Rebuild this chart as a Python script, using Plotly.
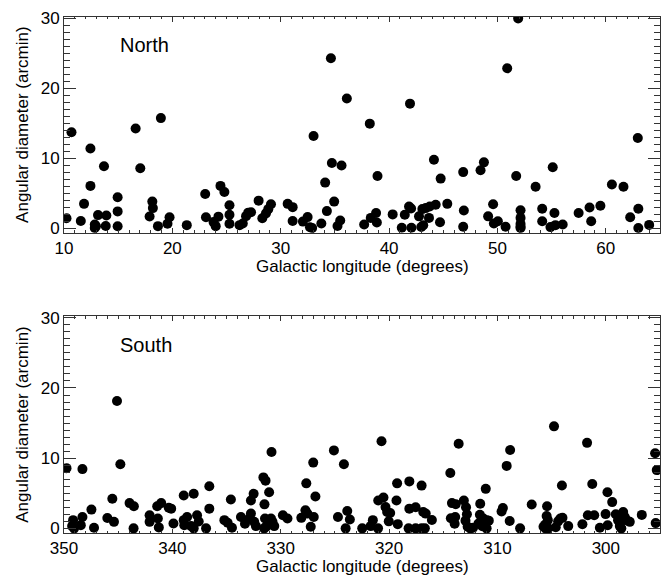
import plotly.graph_objects as go

# Northern sample: galactic longitude (deg) and angular diameter (arcmin)
north_lon = [10.23, 10.69, 11.55, 11.85, 12.44, 12.44, 12.84, 12.84, 12.95, 13.14,
             13.69, 13.91, 13.85, 14.95, 14.95, 14.95, 16.61, 17.04, 17.9, 18.15,
             18.2, 18.67, 18.94, 19.55, 19.74, 21.33, 23.03, 23.1, 23.8, 24.0,
             24.25, 24.44, 24.8, 25.27, 25.27, 25.27, 26.2, 26.5, 26.8, 27.0,
             27.26, 27.96, 28.3, 28.64, 28.85, 29.1, 30.64, 31.1, 31.1, 32.05,
             32.48, 32.7, 32.9, 33.03, 33.75, 34.1, 34.26, 34.63, 34.72, 34.93,
             35.24, 35.49, 35.61, 36.1, 37.7, 38.22, 38.31, 38.8, 38.87, 38.93,
             40.33, 41.17, 41.45, 41.84, 42.03, 41.93, 42.06, 42.76, 42.97, 43.15,
             43.07, 43.38, 43.75, 44.3, 43.68, 44.14, 44.7, 44.76, 45.37, 46.84,
             46.9, 46.84, 48.44, 48.75, 49.14, 49.6, 49.67, 50.04, 50.75, 50.9,
             51.73, 51.91, 52.13, 52.13, 52.13, 52.13, 52.13, 53.52, 54.13, 54.13,
             55.1, 55.26, 54.89, 55.35, 56.02, 57.49, 58.5, 58.65, 59.5, 60.56,
             61.63, 62.25, 62.95, 63.0, 63.0, 64.0]
north_diam = [1.4, 13.7, 1.0, 3.46, 11.37, 6.03, 0.5, 0.0, 0.25, 1.85,
              8.85, 1.8, 0.3, 4.4, 2.38, 0.25, 14.24, 8.55, 1.65, 3.78,
              2.85, 0.27, 15.73, 0.6, 1.53, 0.41, 4.88, 1.53, 0.85, 0.27,
              1.63, 6.03, 5.15, 3.25, 1.9, 0.62, 0.41, 0.65, 1.7, 2.2,
              2.25, 3.92, 1.4, 2.1, 2.7, 3.4, 3.46, 2.99, 1.0, 0.92,
              1.56, 0.1, 0.0, 13.16, 0.65, 6.5, 2.42, 24.3, 9.3, 3.78,
              0.3, 1.07, 8.94, 18.54, 0.5, 14.94, 1.45, 2.15, 0.8, 7.44,
              1.95, 0.04, 1.9, 3.08, 2.8, 17.8, 0.04, 1.67, 0.15, 0.4,
              2.71, 2.85, 3.08, 3.32, 1.45, 9.78, 0.83, 7.07, 3.46, 8.0,
              2.5, 0.18, 8.28, 9.4, 1.67, 3.41, 0.65, 0.97, 0.18, 22.86,
              7.44, 30.0, 2.55, 1.45, 0.6, 0.2, 0.0, 5.9, 2.75, 0.97,
              8.7, 2.15, 0.13, 0.41, 0.5, 2.15, 2.94, 0.97, 3.18, 6.22,
              5.9, 1.53, 12.88, 2.75, 0.0, 0.45]

# Southern sample
south_lon = [349.77, 348.3, 349.16, 349.25, 349.07, 348.45, 348.3, 347.47, 347.23, 346.0,
             345.39, 345.54, 345.11, 344.8, 343.95, 343.55, 343.58, 342.1, 342.1, 341.34,
             341.25, 341.4, 341.03, 340.33, 340.11, 339.9, 338.95, 338.95, 338.9, 338.64,
             338.27, 338.03, 338.03, 337.72, 337.57, 336.89, 336.59, 336.59, 335.2, 334.9,
             334.5, 334.6, 333.67, 333.3, 332.75, 332.5, 332.75, 332.9, 332.45, 332.29,
             331.6, 331.4, 331.07, 331.5, 330.85, 331.45, 331.53, 331.35, 330.9, 330.76,
             330.6, 329.8, 329.38, 328.1, 327.72, 327.54, 327.64, 327.23, 327.0, 326.95,
             326.8, 325.09, 324.72, 324.17, 324.01, 323.86, 323.62, 322.48, 321.7, 321.5,
             321.0, 320.52, 320.7, 321.02, 320.33, 320.18, 319.9, 320.03, 319.26, 319.32,
             319.2, 318.13, 318.13, 317.55, 318.2, 317.55, 317.0, 316.7, 317.0, 316.85,
             316.62, 316.05, 314.35, 314.2, 313.85, 313.58, 314.3, 313.9, 313.95, 313.1,
             312.9, 312.82, 312.95, 312.75, 312.5, 312.25, 311.59, 311.62, 311.75, 311.4,
             311.0, 310.98, 310.8, 311.3, 311.08, 309.62, 309.5, 309.15, 308.83, 308.87,
             307.91, 306.84, 305.42, 305.46, 305.35, 305.61, 305.75, 305.31, 305.55, 304.78,
             304.62, 304.4, 304.2, 304.0, 304.05, 303.47, 302.16, 301.73, 301.66, 301.25,
             301.07, 300.55, 300.02, 299.85, 299.83, 299.41, 299.08, 298.87, 298.71, 298.57,
             298.4, 298.25, 298.1, 297.79, 298.71, 296.68, 295.45, 295.3, 295.4]
south_diam = [8.58, 8.44, 1.17, 0.32, 0.0, 0.46, 1.63, 2.67, 0.08, 1.49,
              0.93, 4.22, 18.14, 9.14, 3.6, 3.14, 0.0, 1.87, 0.93, 1.4,
              0.14, 3.14, 3.6, 2.95, 2.81, 0.7, 4.68, 1.17, 0.46, 1.63,
              0.32, 0.0, 4.92, 1.87, 0.98, 0.0, 6.0, 2.81, 1.17, 0.79,
              0.1, 4.1, 1.63, 0.65, 3.98, 4.92, 2.1, 1.4, 0.93, 0.32,
              7.26, 6.8, 5.15, 3.42, 10.87, 1.4, 0.0, 0.23, 1.4, 0.93,
              0.32, 1.87, 1.4, 1.5, 2.57, 2.1, 6.41, 0.23, 9.37, 1.63,
              4.54, 11.11, 1.63, 9.14, 0.0, 2.48, 1.27, 0.0, 0.32, 1.17,
              3.98, 4.4, 12.42, 0.0, 3.04, 2.34, 2.2, 1.0, 6.41, 3.98,
              0.6, 6.69, 2.81, 3.0, 0.0, 0.0, 0.0, 0.0, 6.09, 2.34,
              2.1, 1.2, 7.88, 3.6, 3.45, 12.06, 1.45, 1.63, 0.65, 3.98,
              3.0, 2.0, 1.1, 0.23, 0.0, 0.1, 3.52, 1.95, 0.7, 0.3,
              0.0, 1.17, 1.1, 1.4, 5.63, 2.4, 2.9, 8.9, 11.17, 1.05,
              0.0, 3.4, 3.16, 1.75, 1.17, 0.5, 0.23, 0.0, 0.0, 14.53,
              0.15, 1.0, 1.4, 1.5, 6.1, 0.32, 0.58, 12.18, 1.87, 6.33,
              1.87, 0.1, 2.03, 5.15, 0.45, 3.74, 2.0, 1.17, 0.7, 0.0,
              2.34, 1.63, 1.17, 0.93, 0.32, 1.92, 10.69, 8.3, 0.75]

y_ticks = [0, 10, 20, 30]
north_ticks = [10, 20, 30, 40, 50, 60]
south_ticks = [350, 340, 330, 320, 310, 300]

FONT = "Liberation Sans, Arial, Helvetica, sans-serif"
AXIS_COLOR = "#333333"

fig = go.Figure()
marker = dict(color="black", size=10, line=dict(width=0))
fig.add_trace(go.Scatter(x=north_lon, y=north_diam, mode="markers",
                         marker=marker, xaxis="x", yaxis="y", showlegend=False))
fig.add_trace(go.Scatter(x=south_lon, y=south_diam, mode="markers",
                         marker=marker, xaxis="x2", yaxis="y2", showlegend=False))


def xaxis_style(tickvals, rng, anchor):
    return dict(range=rng, tickvals=tickvals, ticktext=[str(v) for v in tickvals],
                ticks="inside", ticklen=4.5, tickwidth=1, tickcolor=AXIS_COLOR,
                minor=dict(ticks="inside", ticklen=2.2, dtick=1, tickcolor=AXIS_COLOR),
                showline=True, linecolor=AXIS_COLOR, linewidth=1, mirror="ticks",
                showgrid=False, zeroline=False, anchor=anchor,
                tickfont=dict(family=FONT, size=17, color="black"))


def yaxis_style(domain, anchor):
    return dict(range=[-0.66, 30.2], domain=domain, tickvals=y_ticks,
                ticktext=[str(v) for v in y_ticks],
                ticks="inside", ticklen=12, tickwidth=1, tickcolor=AXIS_COLOR,
                minor=dict(ticks="inside", ticklen=6, dtick=1, tickcolor=AXIS_COLOR),
                showline=True, linecolor=AXIS_COLOR, linewidth=1, mirror="ticks",
                showgrid=False, zeroline=False, anchor=anchor,
                tickfont=dict(family=FONT, size=17, color="black"))


top_domain = [0.5821, 1.0]
bottom_domain = [0.0, 0.4198]

fig.update_layout(
    width=670, height=579,
    margin=dict(l=64, r=9, t=9, b=46),
    paper_bgcolor="white", plot_bgcolor="white",
    xaxis=xaxis_style(north_ticks, [10, 65], "y"),
    yaxis=yaxis_style(top_domain, "x"),
    xaxis2=xaxis_style(south_ticks, [350, 295], "y2"),
    yaxis2=yaxis_style(bottom_domain, "x2"),
)

title_font = dict(family=FONT, size=17, color="black")
annotations = []
for name, dom in (("North", top_domain), ("South", bottom_domain)):
    h = dom[1] - dom[0]
    annotations.append(dict(text=name, xref="paper", yref="paper",
                            x=0.0905, y=dom[0] + 0.868 * h, xanchor="left", yanchor="middle",
                            showarrow=False, font=dict(family=FONT, size=20, color="black")))
    annotations.append(dict(text="Angular diameter (arcmin)", xref="paper", yref="paper",
                            x=-41 / 597, y=dom[0] + 0.5 * h, textangle=-90,
                            xanchor="center", yanchor="middle", showarrow=False,
                            font=title_font))
    annotations.append(dict(text="Galactic longitude (degrees)", xref="paper", yref="paper",
                            x=0.5, y=dom[0] - 34 / 524, xanchor="center", yanchor="middle",
                            showarrow=False, font=title_font))
fig.update_layout(annotations=annotations)

fig.write_html("out.html")
